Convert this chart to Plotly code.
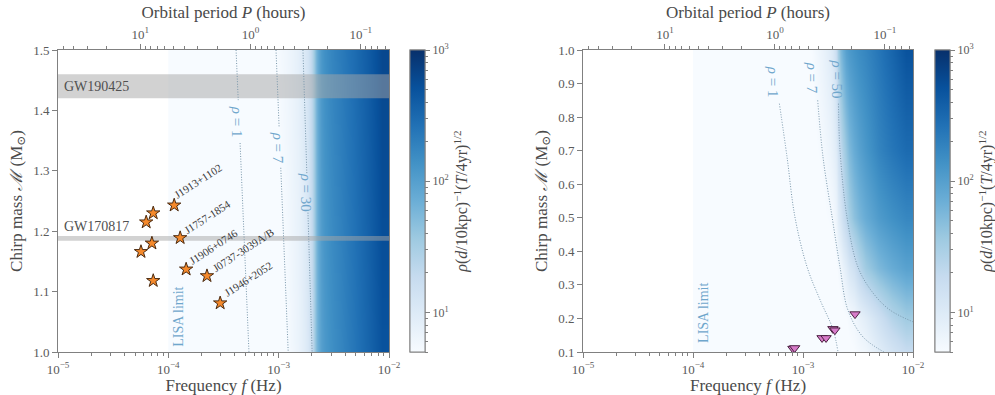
import numpy as np
import plotly.graph_objects as go

# ------------------------------------------------------------------ data
# SNR map (rho, at 10 kpc, 4 yr) read from the colour of the maps
freq_edges = [1.0e-4, 5.0e-4, 9.0e-4, 1.2e-3, 1.5e-3, 1.75e-3, 1.95e-3, 2.1e-3,
              2.3e-3, 2.6e-3, 3.2e-3, 4.2e-3, 5.6e-3, 7.5e-3, 1.0e-2]
left_mass_rows = [1.0, 1.25, 1.5]
left_snr = [
    [3, 3.5, 4.5, 6.0, 8.0, 11, 20, 55, 100, 135, 175, 240, 340, 500],
    [3, 3.5, 5.0, 6.5, 8.5, 12, 22, 60, 110, 150, 195, 265, 375, 560],
    [3, 4.0, 5.5, 7.0, 9.5, 13, 25, 65, 120, 165, 215, 290, 410, 620],
]
right_mass_rows = [0.1, 0.2, 0.35, 0.5, 0.7, 1.0]
right_snr = [
    [3, 3, 3, 3, 3, 3, 3.5, 4, 4.5, 5, 6, 9, 13, 18],
    [3, 3, 3, 3, 3, 3.5, 4, 4.5, 5, 6, 9, 15, 25, 35],
    [3, 3, 3, 3.5, 4, 4.5, 5, 6, 9, 15, 35, 55, 75, 95],
    [3, 3, 3.5, 4, 5, 5.5, 7, 12, 22, 45, 75, 110, 140, 170],
    [3, 3.5, 4, 5, 6, 7.5, 10, 20, 40, 75, 120, 180, 240, 300],
    [3, 3.5, 4.5, 6, 8, 11, 20, 55, 100, 135, 175, 240, 340, 500],
]

# double neutron stars (left)
psr_f = [6.3e-5, 7.3e-5, 1.13e-4, 1.28e-4, 7.1e-5, 5.65e-5, 1.45e-4, 7.3e-5, 2.24e-4, 2.95e-4]
psr_M = [1.215, 1.230, 1.243, 1.189, 1.180, 1.166, 1.137, 1.118, 1.126, 1.081]
psr_names = ["J1913+1102", "J1757-1854", "J1906+0746", "J0737-3039A/B", "J1946+2052"]
psr_label_f = [1.86e-4, 2.24e-4, 2.54e-4, 4.76e-4, 5.28e-4]
psr_label_M = [1.283, 1.224, 1.174, 1.169, 1.121]

# double white dwarfs (right)
wd_f = [8.1e-4, 8.4e-4, 1.49e-3, 1.62e-3, 1.87e-3, 1.95e-3, 2.97e-3]
wd_M = [0.110, 0.112, 0.142, 0.142, 0.169, 0.165, 0.213]

# GW events (chirp mass bands)
gw_names = ["GW190425", "GW170817"]
gw_lo = [1.42, 1.184]
gw_hi = [1.46, 1.192]
gw_label_M = [1.44, 1.207]

# SNR contour lines (None = gap for the label)
l_rho1_f = [4.11e-4, 4.30e-4, None, 4.47e-4, 5.38e-4]
l_rho1_M = [1.5, 1.417, None, 1.346, 1.0]
l_rho7_f = [9.46e-4, 1.01e-3, None, 1.045e-3, 1.22e-3]
l_rho7_M = [1.5, 1.371, None, 1.305, 1.0]
l_rho30_f = [1.66e-3, 1.80e-3, None, 1.84e-3, 2.01e-3]
l_rho30_M = [1.5, 1.296, None, 1.235, 1.0]
left_contour_labels = ["1", "7", "30"]
left_contour_label_f = [4.2e-4, 9.9e-4, 1.78e-3]
left_contour_label_M = [1.381, 1.338, 1.265]

r_rho1_f = [6.1e-4, 7.16e-4, 8.45e-4, 1.09e-3, 1.43e-3, 1.88e-3, 2.08e-3]
r_rho1_M = [0.84, 0.681, 0.502, 0.353, 0.255, 0.166, 0.10]
r_rho7_f = [1.36e-3, 1.52e-3, 1.84e-3, 2.17e-3, 2.56e-3, 3.51e-3, 5.44e-3]
r_rho7_M = [0.85, 0.681, 0.502, 0.353, 0.225, 0.145, 0.10]
r_rho50_f = [2.1e-3, 2.17e-3, 2.51e-3, 3.16e-3, 4.33e-3, 6.18e-3, 1.0e-2]
r_rho50_M = [0.84, 0.702, 0.502, 0.353, 0.276, 0.225, 0.19]
right_contour_labels = ["1", "7", "50"]
right_contour_label_f = [5.35e-4, 1.23e-3, 2.04e-3]
right_contour_label_M = [0.905, 0.918, 0.915]

lisa_limit_f = 1.0e-4
lisa_label_M = [1.058, 0.215]

# axis tick definitions
freq_range = [1e-5, 1e-2]
freq_major = [1e-5, 1e-4, 1e-3, 1e-2]
freq_major_text = ["10<sup>−5</sup>", "10<sup>−4</sup>", "10<sup>−3</sup>", "10<sup>−2</sup>"]
period_major = [10.0, 1.0, 0.1]
period_major_text = ["10<sup>1</sup>", "10<sup>0</sup>", "10<sup>−1</sup>"]
period_minor = [50, 40, 30, 20, 9, 8, 7, 6, 5, 4, 3, 2,
                0.9, 0.8, 0.7, 0.6, 0.5, 0.4, 0.3, 0.2,
                0.09, 0.08, 0.07, 0.06]
cbar_range = [5, 1000]
cbar_major = [10, 100, 1000]
cbar_major_text = ["10<sup>1</sup>", "10<sup>2</sup>", "10<sup>3</sup>"]
cbar_minor = [5, 6, 7, 8, 9, 20, 30, 40, 50, 60, 70, 80, 90,
              200, 300, 400, 500, 600, 700, 800, 900]

# ------------------------------------------------------------------ style
W, H = 995, 395
FONT = "Liberation Serif, DejaVu Serif, serif"
TXT = "#4a4a4a"
TICK = "#5a5a5a"
LINE = "#808080"
BLUES = [[0.0, "#f7fbff"], [0.125, "#deebf7"], [0.25, "#c6dbef"], [0.375, "#9ecae1"],
         [0.5, "#6baed6"], [0.625, "#4292c6"], [0.75, "#2171b5"], [0.875, "#08519c"],
         [1.0, "#08306b"]]
CONTOUR_COLOR = "#7896aa"
CONTOUR_DASH = "1px,1.6px"
LABEL_BLUE = "#6fa6cc"

ydom = [(H - 352) / H, (H - 50) / H]
left_dom = [58 / W, 389 / W]
right_dom = [583 / W, 913 / W]
zlo, zhi = np.log10(cbar_range[0]), np.log10(cbar_range[1])


def p_to_f(P):
    return list(2.0 / (np.asarray(P, dtype=float) * 3600.0))


cbar_title = "<i>ρ</i>(<i>d</i>/10kpc)<sup>−1</sup>(<i>T</i>/4yr)<sup>1/2</sup>"


def colorbar(xpx, minor=False):
    cb = dict(
        x=xpx / W, xanchor="left", y=(ydom[0] + ydom[1]) / 2, yanchor="middle",
        len=(ydom[1] - ydom[0]), lenmode="fraction", thickness=15, thicknessmode="pixels",
        xpad=0, ypad=0,
        outlinecolor=LINE, outlinewidth=1, tickmode="array",
        ticks="outside", tickcolor=LINE, tickfont=dict(size=12, color=TICK, family=FONT),
    )
    if minor:
        cb.update(tickvals=list(np.log10(cbar_minor)), ticklen=3, showticklabels=False)
    else:
        cb.update(tickvals=list(np.log10(cbar_major)), ticktext=cbar_major_text, ticklen=5,
                  title=dict(text=cbar_title, side="right",
                             font=dict(size=16, color=TXT, family=FONT)))
    return cb


fig = go.Figure()

# heatmaps on hidden linear base axes (log10 f)
fig.add_trace(go.Heatmap(
    x=np.log10(freq_edges), y=left_mass_rows, z=np.log10(left_snr),
    colorscale=BLUES, zmin=zlo, zmax=zhi,
    zsmooth="best", xaxis="x", yaxis="y", hoverinfo="skip", colorbar=colorbar(410)))
fig.add_trace(go.Heatmap(
    x=np.log10(freq_edges), y=right_mass_rows, z=np.log10(right_snr),
    colorscale=BLUES, zmin=zlo, zmax=zhi,
    zsmooth="best", xaxis="x4", yaxis="y2", hoverinfo="skip", colorbar=colorbar(935)))

# colorbars carrying the minor ticks
for xa, ya, xpx in [("x", "y", 410), ("x4", "y2", 935)]:
    fig.add_trace(go.Scatter(
        x=[None], y=[None], mode="markers", xaxis=xa, yaxis=ya, hoverinfo="skip",
        showlegend=False,
        marker=dict(color=[zlo], colorscale=BLUES, cmin=zlo, cmax=zhi, showscale=True,
                    colorbar=colorbar(xpx, minor=True))))

# GW bands
for lo, hi in zip(gw_lo, gw_hi):
    fig.add_trace(go.Scatter(
        x=[freq_range[0], freq_range[1], freq_range[1], freq_range[0], freq_range[0]],
        y=[lo, lo, hi, hi, lo], mode="lines", fill="toself",
        fillcolor="rgba(165,165,165,0.5)", line=dict(width=0),
        xaxis="x2", yaxis="y", hoverinfo="skip", showlegend=False))

# contour lines
for fx, my in [(l_rho1_f, l_rho1_M), (l_rho7_f, l_rho7_M), (l_rho30_f, l_rho30_M)]:
    fig.add_trace(go.Scatter(x=fx, y=my, mode="lines", connectgaps=False,
                             line=dict(color=CONTOUR_COLOR, width=1, dash=CONTOUR_DASH),
                             xaxis="x2", yaxis="y", hoverinfo="skip", showlegend=False))
for fx, my in [(r_rho1_f, r_rho1_M), (r_rho7_f, r_rho7_M), (r_rho50_f, r_rho50_M)]:
    fig.add_trace(go.Scatter(x=fx, y=my, mode="lines", line_shape="spline",
                             line=dict(color=CONTOUR_COLOR, width=1, dash=CONTOUR_DASH),
                             xaxis="x5", yaxis="y2", hoverinfo="skip", showlegend=False))

# markers
fig.add_trace(go.Scatter(
    x=psr_f, y=psr_M, mode="markers",
    marker=dict(symbol="star", size=10, color="#f5892b", line=dict(color="#4a2a10", width=1)),
    xaxis="x2", yaxis="y", showlegend=False))
fig.add_trace(go.Scatter(
    x=wd_f, y=wd_M, mode="markers",
    marker=dict(symbol="triangle-down", size=9, color="#d77bc9", line=dict(color="#4a2040", width=1)),
    xaxis="x5", yaxis="y2", showlegend=False))

# empty traces so the top axes get their subplots
fig.add_trace(go.Scatter(x=[], y=[], xaxis="x3", yaxis="y", showlegend=False))
fig.add_trace(go.Scatter(x=[], y=[], xaxis="x6", yaxis="y2", showlegend=False))

# ------------------------------------------------------------------ annotations
ann = []
for name, f, m in zip(psr_names, psr_label_f, psr_label_M):
    ann.append(dict(x=np.log10(f), y=m, xref="x2", yref="y", text=name, showarrow=False,
                    textangle=-33, font=dict(size=11, color="#3a3a3a", family=FONT)))
for name, m in zip(gw_names, gw_label_M):
    ann.append(dict(x=0.012, y=m, xref="x2 domain", yref="y", text=name, showarrow=False,
                    xanchor="left", font=dict(size=14, color="#505050", family=FONT)))
for t, f, m in zip(left_contour_labels, left_contour_label_f, left_contour_label_M):
    ann.append(dict(x=np.log10(f), y=m, xref="x2", yref="y", text=f"<i>ρ</i> = {t}",
                    showarrow=False, textangle=90, font=dict(size=15, color=LABEL_BLUE, family=FONT)))
for t, f, m in zip(right_contour_labels, right_contour_label_f, right_contour_label_M):
    ann.append(dict(x=np.log10(f), y=m, xref="x5", yref="y2", text=f"<i>ρ</i> = {t}",
                    showarrow=False, textangle=90, font=dict(size=15, color=LABEL_BLUE, family=FONT)))
for xr, yr, m in [("x2", "y", lisa_label_M[0]), ("x5", "y2", lisa_label_M[1])]:
    ann.append(dict(x=np.log10(lisa_limit_f), y=m, xref=xr, yref=yr, text="LISA limit",
                    xanchor="left", xshift=1, showarrow=False, textangle=-90,
                    font=dict(size=14, color=LABEL_BLUE, family=FONT)))

# ------------------------------------------------------------------ axes
freq_minor = [k * 10.0 ** e for e in range(-5, -2) for k in range(2, 10)]
logr = [np.log10(freq_range[0]), np.log10(freq_range[1])]


def base_x(dom, y):
    return dict(domain=dom, range=logr, visible=False, anchor=y, fixedrange=True,
                automargin=False)


def freq_axis(base, y):
    return dict(overlaying=base, anchor=y, type="log", range=logr, side="bottom",
                showline=True, linecolor=LINE, linewidth=1, automargin=False,
                ticks="outside", ticklen=5, tickcolor=LINE, tickmode="array",
                tickvals=freq_major, ticktext=freq_major_text,
                showgrid=False, zeroline=False,
                minor=dict(ticks="outside", ticklen=3, tickcolor=LINE, tickmode="array",
                           tickvals=freq_minor, showgrid=False),
                tickfont=dict(size=13, color=TICK, family=FONT),
                title=dict(text="Frequency <i>f</i> (Hz)", standoff=2,
                           font=dict(size=17, color=TXT, family=FONT)))


def period_axis(base, y):
    return dict(overlaying=base, anchor=y, type="log", range=logr, side="top",
                showline=True, linecolor=LINE, linewidth=1, automargin=False,
                ticks="outside", ticklen=5, tickcolor=LINE, tickmode="array",
                tickvals=p_to_f(period_major), ticktext=period_major_text,
                showgrid=False, zeroline=False,
                minor=dict(ticks="outside", ticklen=3, tickcolor=LINE, tickmode="array",
                           tickvals=p_to_f(period_minor), showgrid=False),
                tickfont=dict(size=13, color=TICK, family=FONT),
                title=dict(text="Orbital period <i>P</i> (hours)", standoff=2,
                           font=dict(size=17, color=TXT, family=FONT)))


def mass_axis(x, rng):
    return dict(domain=ydom, anchor=x, range=rng, showline=True, linecolor=LINE, linewidth=1,
                mirror=True, ticks="outside", ticklen=5, tickcolor=LINE, dtick=0.1,
                tickformat=".1f", showgrid=False, zeroline=False, automargin=False,
                tickfont=dict(size=13, color=TICK, family=FONT),
                title=dict(text="Chirp mass <i>ℳ</i> (M<sub>⊙</sub>)", standoff=6,
                           font=dict(size=17, color=TXT, family=FONT)))


fig.update_layout(
    width=W, height=H, margin=dict(l=0, r=0, t=0, b=0, autoexpand=False),
    paper_bgcolor="white", plot_bgcolor="white", showlegend=False,
    font=dict(family=FONT, color=TXT),
    xaxis=base_x(left_dom, "y"),
    xaxis2=freq_axis("x", "y"),
    xaxis3=period_axis("x", "y"),
    yaxis=mass_axis("x", [1.0, 1.5]),
    xaxis4=base_x(right_dom, "y2"),
    xaxis5=freq_axis("x4", "y2"),
    xaxis6=period_axis("x4", "y2"),
    yaxis2=mass_axis("x4", [0.1, 1.0]),
    annotations=ann,
)

fig.write_html(
    "out.html",
    config={"displayModeBar": False},
    post_script="document.body.style.margin='0';document.body.style.overflow='hidden';",
)
